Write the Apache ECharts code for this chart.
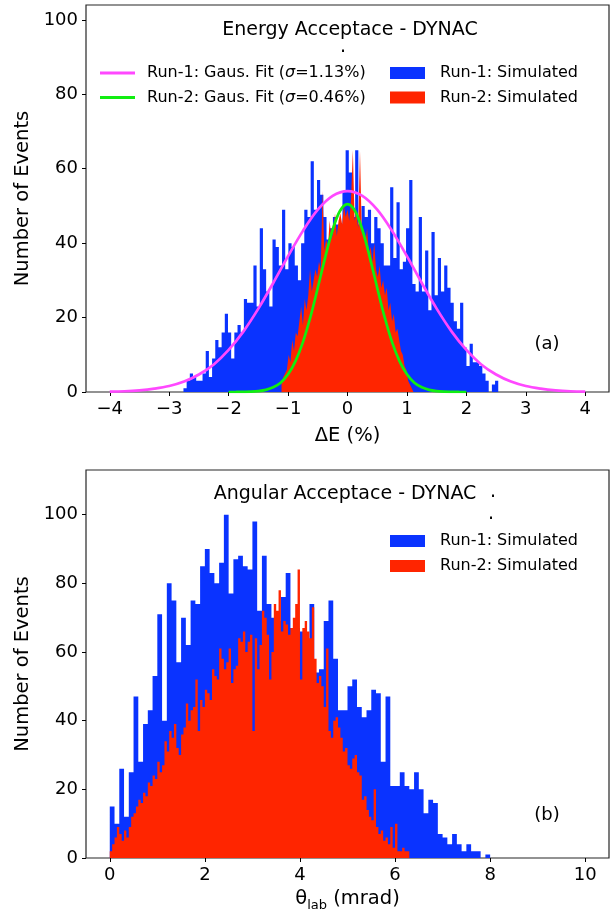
<!DOCTYPE html>
<html>
<head>
<meta charset="utf-8">
<script src="https://cdn.jsdelivr.net/npm/echarts@6/dist/echarts.min.js"></script>
<style>html,body{margin:0;padding:0;background:#fff}#chart{width:615px;height:916px}</style>
</head>
<body>
<div id="chart"></div>
<script>
// ---------- DATA ----------
// (a) Energy acceptance, Run-1 histogram (bin start, bin width, counts)
const topBlueStart = -2.76;
const topBlueWidth = 0.0535;
const topBlue = [1,3,5,4,3,3,5,11,4,9,
 14,12,16,21,16,9,16,18,16,25,
 24,24,34,23,44,33,27,23,41,39,
 34,49,33,40,39,34,30,40,49,47,
 62,49,57,53,47,41,44,47,45,42,
 54,65,59,47,65,45,50,47,49,40,
 47,44,40,34,34,55,36,51,33,35,
 44,57,29,27,47,27,38,22,43,26,
 36,27,34,28,24,19,17,24,12,7,
 13,8,8,7,5,3,0,2,3];
// (a) Run-2 histogram
const topRedStart = -1.11;
const topRedWidth = 0.03;
const topRed = [2,4,5,6,10,8,14,11,16,15,
 19,23,18,25,22,26,33,27,30,33,
 31,35,33,54,38,41,39,46,41,43,
 48,42,46,48,45,50,47,49,46,52,
 65,46,48,44,65,43,42,40,44,37,
 39,35,40,33,31,34,28,30,26,28,
 22,24,19,21,16,17,14,11,10,7,
 6,3,2,1];
// (a) Gaussian fit curves
const fit1X = [-4,-3.75,-3.5,-3.25,-3,-2.75,-2.5,-2.25,-2,-1.75,-1.5,-1.25,-1,-0.75,-0.5,-0.25,0,
  0.25,0.5,0.75,1,1.25,1.5,1.75,2,2.25,2.5,2.75,3,3.25,3.5,3.75,4];
const fit1Y = [0.1,0.2,0.45,0.9,1.6,2.8,4.7,7.4,11.3,16.3,22.4,29.3,36.5,43.3,49.0,52.7,54,
  52.7,49.0,43.3,36.5,29.3,22.4,16.3,11.3,7.4,4.7,2.8,1.6,0.9,0.45,0.2,0.1];
const fit2X = [-2,-1.875,-1.75,-1.625,-1.5,-1.375,-1.25,-1.125,-1,-0.875,-0.75,-0.625,-0.5,-0.375,-0.25,-0.125,0,
  0.125,0.25,0.375,0.5,0.625,0.75,0.875,1,1.125,1.25,1.375,1.5,1.625,1.75,1.875,2];
const fit2Y = [0,0.01,0.04,0.1,0.25,0.58,1.26,2.5,4.75,8.3,13.4,20.1,28.0,36.2,43.6,48.7,50.5,
  48.7,43.6,36.2,28.0,20.1,13.4,8.3,4.75,2.5,1.26,0.58,0.25,0.1,0.04,0.01,0];
// (b) Angular acceptance, Run-1 histogram
const botBlueStart = 0;
const botBlueWidth = 0.1;
const botBlue = [15,10,26,12,25,47,28,39,43,53,
 71,40,80,75,57,70,62,75,74,85,
 90,83,80,86,100,77,87,88,85,84,
 98,72,88,74,70,69,76,83,67,67,
 66,62,74,54,55,69,75,58,43,43,
 50,52,44,41,43,49,48,28,47,21,
 21,25,21,20,25,20,13,17,16,7,
 6,4,7,4,2,4,2,2,0,1];
// (b) Run-2 histogram
const botRedStart = 0;
const botRedWidth = 0.05;
const botRed = [2,4,6,9,7,5,8,6,9,12,
 13,15,17,16,19,18,22,21,24,23,
 28,25,27,34,31,37,35,39,32,30,
 36,38,45,40,43,44,52,37,46,44,
 49,48,46,55,53,52,61,58,55,57,
 61,51,55,56,64,63,66,60,63,65,
 37,64,55,62,72,70,65,52,60,74,
 72,78,66,69,68,65,67,70,74,84,
 52,67,69,66,64,73,58,51,53,50,
 44,61,37,35,40,41,38,35,31,32,
 27,26,29,30,25,24,17,18,14,12,
 11,20,9,7,8,5,6,4,9,3,
 10,2,2,3,2,2];
// tick labels
const topXTicks = [-4,-3,-2,-1,0,1,2,3,4];
const topYTicks = [0,20,40,60,80,100];
const botXTicks = [0,2,4,6,8,10];
const botYTicks = [0,20,40,60,80,100];
// names
const nameRun1Fit = 'Run-1: Gaus. Fit (σ=1.13%)';
const nameRun2Fit = 'Run-2: Gaus. Fit (σ=0.46%)';
const nameRun1Sim = 'Run-1: Simulated';
const nameRun2Sim = 'Run-2: Simulated';

// ---------- STYLE ----------
const FONT = 'DejaVu Sans';
const BLUE = '#0a33ff';
const RED = '#ff2500';
const MAGENTA = '#ff48ff';
const GREEN = '#11ee11';

function stepData(start, width, counts) {
  const pts = counts.map((c, i) => [start + i * width, c]);
  pts.push([start + counts.length * width, counts[counts.length - 1]]);
  return pts;
}
function zip(xs, ys) { return xs.map((x, i) => [x, ys[i]]); }
const minus = v => String(v).replace('-', '\u2212');

function xAxisCfg(grid, min, max, ticks, name, gap, rich) {
  return {
    gridIndex: grid, type: 'value', min, max,
    name, nameLocation: 'middle', nameGap: gap,
    nameTextStyle: Object.assign({fontSize: 19.5, color: '#000', fontFamily: FONT}, rich ? {rich} : {}),
    axisLine: {show: false, onZero: false},
    axisTick: {show: true, length: 4, lineStyle: {color: '#000', width: 1}, customValues: ticks},
    axisLabel: {customValues: ticks, formatter: minus, fontSize: 18, color: '#000', fontFamily: FONT, margin: 8},
    splitLine: {show: false}
  };
}
function yAxisCfg(grid, max, ticks) {
  return {
    gridIndex: grid, type: 'value', min: 0, max,
    name: 'Number of Events', nameLocation: 'middle', nameGap: 52, nameRotate: 90,
    nameTextStyle: {fontSize: 19.5, color: '#000', fontFamily: FONT},
    axisLine: {show: false, onZero: false},
    axisTick: {show: true, length: 4, lineStyle: {color: '#000', width: 1}, customValues: ticks},
    axisLabel: {customValues: ticks, fontSize: 18, color: '#000', fontFamily: FONT, margin: 8},
    splitLine: {show: false}
  };
}
function histSeries(name, xi, data, color) {
  return {
    type: 'line', name, xAxisIndex: xi, yAxisIndex: xi, data, step: 'end',
    symbol: 'none', silent: true, clip: true,
    lineStyle: {width: 0, color}, itemStyle: {color},
    areaStyle: {color, opacity: 1}
  };
}
function fitSeries(name, data, color) {
  return {
    type: 'line', name, xAxisIndex: 0, yAxisIndex: 0, data, smooth: 0.35,
    symbol: 'none', silent: true,
    lineStyle: {width: 2.7, color}, itemStyle: {color}
  };
}
const legendTextLine = {
  fontSize: 16, color: '#000', fontFamily: FONT, padding: [0, 0, 0, 7],
  rich: {i: {fontSize: 16, fontStyle: 'italic', fontFamily: FONT, color: '#000'}}
};
const legendTextPatch = {fontSize: 16, color: '#000', fontFamily: FONT, padding: [0, 0, 0, 10]};
const legendFmt = n => n.replace('σ', '{i|σ}');
const patchData = [
  {name: nameRun1Sim, icon: 'rect', itemStyle: {color: BLUE}},
  {name: nameRun2Sim, icon: 'rect', itemStyle: {color: RED}}
];

const chart = echarts.init(document.getElementById('chart'), null, {renderer: 'canvas'});
chart.setOption({
  animation: false,
  backgroundColor: '#fff',
  grid: [
    {left: 86, top: 5, width: 523, height: 387, show: true, borderColor: '#262626', borderWidth: 1.2, backgroundColor: 'transparent'},
    {left: 86, top: 470, width: 523, height: 388, show: true, borderColor: '#262626', borderWidth: 1.2, backgroundColor: 'transparent'}
  ],
  xAxis: [
    xAxisCfg(0, -4.4, 4.4, topXTicks, 'ΔE (%)', 34),
    xAxisCfg(1, -0.5, 10.5, botXTicks, '{t|θ}{s|lab}{t| (mrad)}', 31,
      {t: {fontSize: 19.5, fontFamily: FONT, color: '#000', verticalAlign: 'top', lineHeight: 25},
       s: {fontSize: 13, fontFamily: FONT, color: '#000', verticalAlign: 'top', lineHeight: 25, padding: [10, 0, 0, 0]}})
  ],
  yAxis: [yAxisCfg(0, 104, topYTicks), yAxisCfg(1, 113, botYTicks)],
  legend: [
    {data: [{name: nameRun1Fit, icon: 'rect', itemStyle: {color: MAGENTA}},
            {name: nameRun2Fit, icon: 'rect', itemStyle: {color: GREEN}}],
     left: 100, top: 65, orient: 'vertical',
     itemWidth: 35, itemHeight: 3, itemGap: 8.5, padding: 0, selectedMode: false,
     textStyle: legendTextLine, formatter: legendFmt},
    {data: patchData, left: 390, top: 65, orient: 'vertical', itemWidth: 35, itemHeight: 12, itemGap: 8.5, padding: 0, selectedMode: false,
     textStyle: legendTextPatch},
    {data: patchData, left: 390, top: 533, orient: 'vertical', itemWidth: 35, itemHeight: 12, itemGap: 9, padding: 0, selectedMode: false,
     textStyle: legendTextPatch}
  ],
  graphic: [
    {type: 'text', x: 350, y: 30, style: {text: 'Energy Acceptace - DYNAC', fontSize: 19, fontFamily: FONT, fill: '#000', align: 'center', verticalAlign: 'middle'}},
    {type: 'text', x: 343, y: 47, style: {text: '.', fontSize: 19, fontFamily: FONT, fill: '#000', align: 'center', verticalAlign: 'middle'}},
    {type: 'text', x: 345, y: 494, style: {text: 'Angular Acceptace - DYNAC', fontSize: 19, fontFamily: FONT, fill: '#000', align: 'center', verticalAlign: 'middle'}},
    {type: 'text', x: 493, y: 492, style: {text: '.', fontSize: 19, fontFamily: FONT, fill: '#000', align: 'center', verticalAlign: 'middle'}},
    {type: 'text', x: 491, y: 514, style: {text: '.', fontSize: 19, fontFamily: FONT, fill: '#000', align: 'center', verticalAlign: 'middle'}},
    {type: 'text', x: 547, y: 344, style: {text: '(a)', fontSize: 18, fontFamily: FONT, fill: '#000', align: 'center', verticalAlign: 'middle'}},
    {type: 'text', x: 547, y: 815, style: {text: '(b)', fontSize: 18, fontFamily: FONT, fill: '#000', align: 'center', verticalAlign: 'middle'}}
  ],
  series: [
    histSeries(nameRun1Sim, 0, stepData(topBlueStart, topBlueWidth, topBlue), BLUE),
    histSeries(nameRun2Sim, 0, stepData(topRedStart, topRedWidth, topRed), RED),
    fitSeries(nameRun1Fit, zip(fit1X, fit1Y), MAGENTA),
    fitSeries(nameRun2Fit, zip(fit2X, fit2Y), GREEN),
    histSeries(nameRun1Sim, 1, stepData(botBlueStart, botBlueWidth, botBlue), BLUE),
    histSeries(nameRun2Sim, 1, stepData(botRedStart, botRedWidth, botRed), RED)
  ]
});
</script>
</body>
</html>
